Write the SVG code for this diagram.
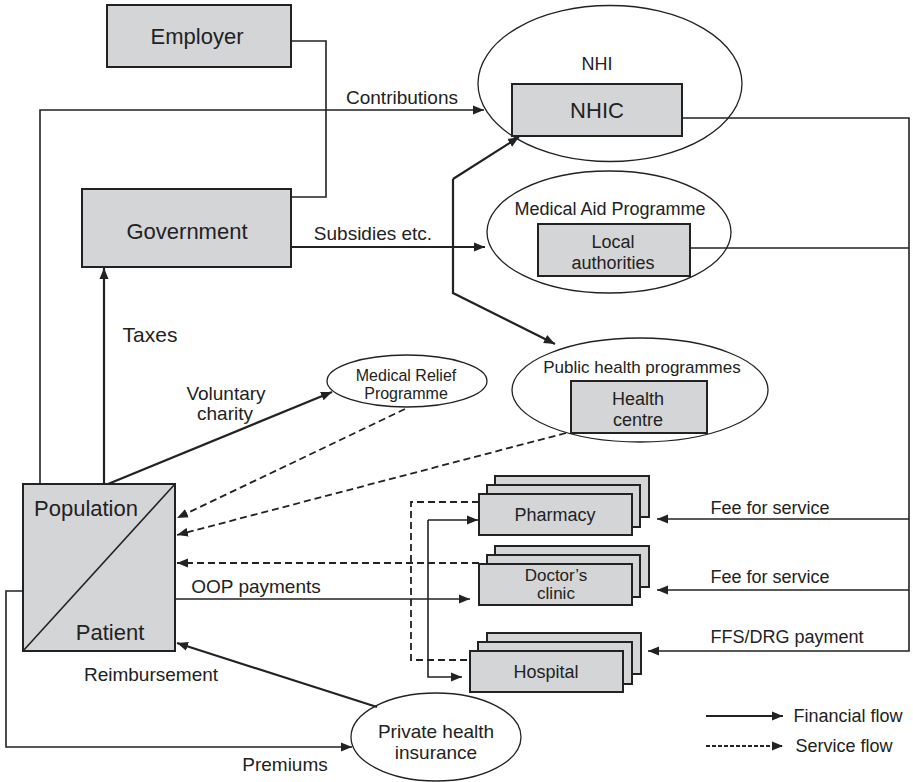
<svg xmlns="http://www.w3.org/2000/svg" width="913" height="782" viewBox="0 0 913 782">
<style>
text{font-family:"Liberation Sans",Arial,sans-serif;fill:#222;text-anchor:middle}
.box{fill:#d4d5d7;stroke:#222;stroke-width:2}
.ell{fill:none;stroke:#222;stroke-width:1.3}
.ln{fill:none;stroke:#222;stroke-width:1.6}
.th{fill:none;stroke:#222;stroke-width:2.2}
.ds{fill:none;stroke:#222;stroke-width:1.8;stroke-dasharray:7 4}
.f22{font-size:22px}.f19{font-size:19px}.f18{font-size:18px}.f17{font-size:17px}.f16{font-size:16px}
</style>
<defs>
<marker id="ah" markerUnits="userSpaceOnUse" markerWidth="12" markerHeight="10" refX="11" refY="5" orient="auto">
<path d="M0,0.5 L11,5 L0,9.5 z" fill="#222"/>
</marker>
</defs>
<rect width="913" height="782" fill="#fff"/>

<g id="employer"><rect class="box" x="107" y="5" width="184" height="62"/><text class="f22" x="197" y="44">Employer</text></g>
<g id="government"><rect class="box" x="82" y="189" width="209" height="78"/><text class="f22" x="187" y="239">Government</text></g>

<g id="nhi"><ellipse class="ell" cx="610" cy="83.5" rx="132" ry="78"/><text class="f18" x="597" y="70">NHI</text>
<g id="nhic"><rect class="box" x="512" y="84" width="170" height="52"/><text class="f22" x="597" y="118">NHIC</text></g></g>

<g id="medical-aid"><ellipse class="ell" cx="609" cy="232" rx="122" ry="61"/><text class="f18" x="610" y="215">Medical Aid Programme</text>
<g id="local-authorities"><rect class="box" x="538" y="224" width="152" height="52"/><text class="f18" x="613" y="248">Local</text><text class="f18" x="613" y="269">authorities</text></g></g>

<g id="public-health"><ellipse class="ell" cx="640" cy="390" rx="128" ry="52"/><text class="f17" x="642" y="373">Public health programmes</text>
<g id="health-centre"><rect class="box" x="571" y="381" width="136" height="52"/><text class="f18" x="638" y="405">Health</text><text class="f18" x="638" y="426">centre</text></g></g>

<g id="medical-relief"><ellipse class="ell" cx="407" cy="381" rx="80" ry="26"/><text class="f16" x="406" y="381">Medical Relief</text><text class="f16" x="406" y="399">Programme</text></g>

<g id="population"><rect class="box" x="23" y="484" width="152" height="167"/><line class="ln" x1="23" y1="651" x2="175" y2="484"/>
<text class="f22" x="86" y="516">Population</text><text class="f22" x="110" y="640">Patient</text></g>

<g id="pharmacy"><rect class="box" x="495" y="476" width="154" height="41"/><rect class="box" x="487" y="485" width="153" height="42"/><rect class="box" x="479" y="494" width="153" height="41"/><text class="f18" x="555" y="521">Pharmacy</text></g>
<g id="doctors-clinic"><rect class="box" x="495" y="546" width="154" height="41"/><rect class="box" x="487" y="555" width="153" height="42"/><rect class="box" x="479" y="564" width="153" height="41"/><text class="f17" x="556" y="581">Doctor’s</text><text class="f17" x="556" y="599">clinic</text></g>
<g id="hospital"><rect class="box" x="487" y="633" width="154" height="41"/><rect class="box" x="478" y="642" width="154" height="42"/><rect class="box" x="470" y="651" width="153" height="41"/><text class="f18" x="546" y="678">Hospital</text></g>

<g id="private-insurance"><ellipse class="ell" cx="436" cy="737" rx="85" ry="44"/><text class="f19" x="436" y="738">Private health</text><text class="f19" x="436" y="759">insurance</text></g>

<g id="connectors">
<polyline class="ln" points="291,41 326,41 326,197 291,197"/>
<polyline class="ln" points="40,484 40,110 484,110" marker-end="url(#ah)"/>
<line class="th" x1="291" y1="247" x2="485" y2="247" marker-end="url(#ah)"/>
<polyline class="th" points="453,179 453,293 555,344" marker-end="url(#ah)"/>
<path class="th" d="M453,179 L519,137" marker-end="url(#ah)"/>
<line class="th" x1="104" y1="484" x2="104" y2="268" marker-end="url(#ah)"/>
<line class="th" x1="108" y1="484" x2="332" y2="392" marker-end="url(#ah)"/>
<polyline class="ln" points="682,118 909,118 909,651 648,651" marker-end="url(#ah)"/>
<line class="ln" x1="690" y1="248" x2="909" y2="248"/>
<line class="ln" x1="909" y1="519" x2="657" y2="519" marker-end="url(#ah)"/>
<line class="ln" x1="909" y1="590" x2="657" y2="590" marker-end="url(#ah)"/>
<line class="ds" x1="405" y1="409" x2="177" y2="518" marker-end="url(#ah)"/>
<line class="ds" x1="566" y1="433" x2="177" y2="535" marker-end="url(#ah)"/>
<line class="ds" x1="479" y1="563" x2="177" y2="563" marker-end="url(#ah)"/>
<polyline class="ds" points="479,502 411,502 411,660 470,660"/>
<line class="ln" x1="175" y1="599" x2="470" y2="599" marker-end="url(#ah)"/>
<polyline class="ln" points="428,520 428,677 462,677" marker-end="url(#ah)"/>
<path class="ln" d="M428,520 L478,520" marker-end="url(#ah)"/>
<polyline class="ln" points="23,591 6,591 6,747 352,747" marker-end="url(#ah)"/>
<line class="th" x1="377" y1="707" x2="177" y2="643" marker-end="url(#ah)"/>
<line class="th" x1="706" y1="716" x2="783" y2="716" marker-end="url(#ah)"/>
<line class="ds" x1="706" y1="746" x2="783" y2="746" style="stroke-dasharray:4 2" marker-end="url(#ah)"/>
</g>

<g id="labels">
<text class="f19" x="402" y="104">Contributions</text>
<text class="f19" x="373" y="240">Subsidies etc.</text>
<text style="font-size:21px" x="150" y="342">Taxes</text>
<text class="f19" x="226" y="400">Voluntary</text>
<text class="f19" x="225" y="420">charity</text>
<text class="f18" x="770" y="514">Fee for service</text>
<text class="f18" x="770" y="583">Fee for service</text>
<text class="f18" x="787" y="643">FFS/DRG payment</text>
<text class="f19" x="256" y="593">OOP payments</text>
<text class="f19" x="151" y="681">Reimbursement</text>
<text class="f19" x="285" y="771">Premiums</text>
<text class="f18" x="848" y="722">Financial flow</text>
<text class="f18" x="844" y="752">Service flow</text>
</g>
</svg>
